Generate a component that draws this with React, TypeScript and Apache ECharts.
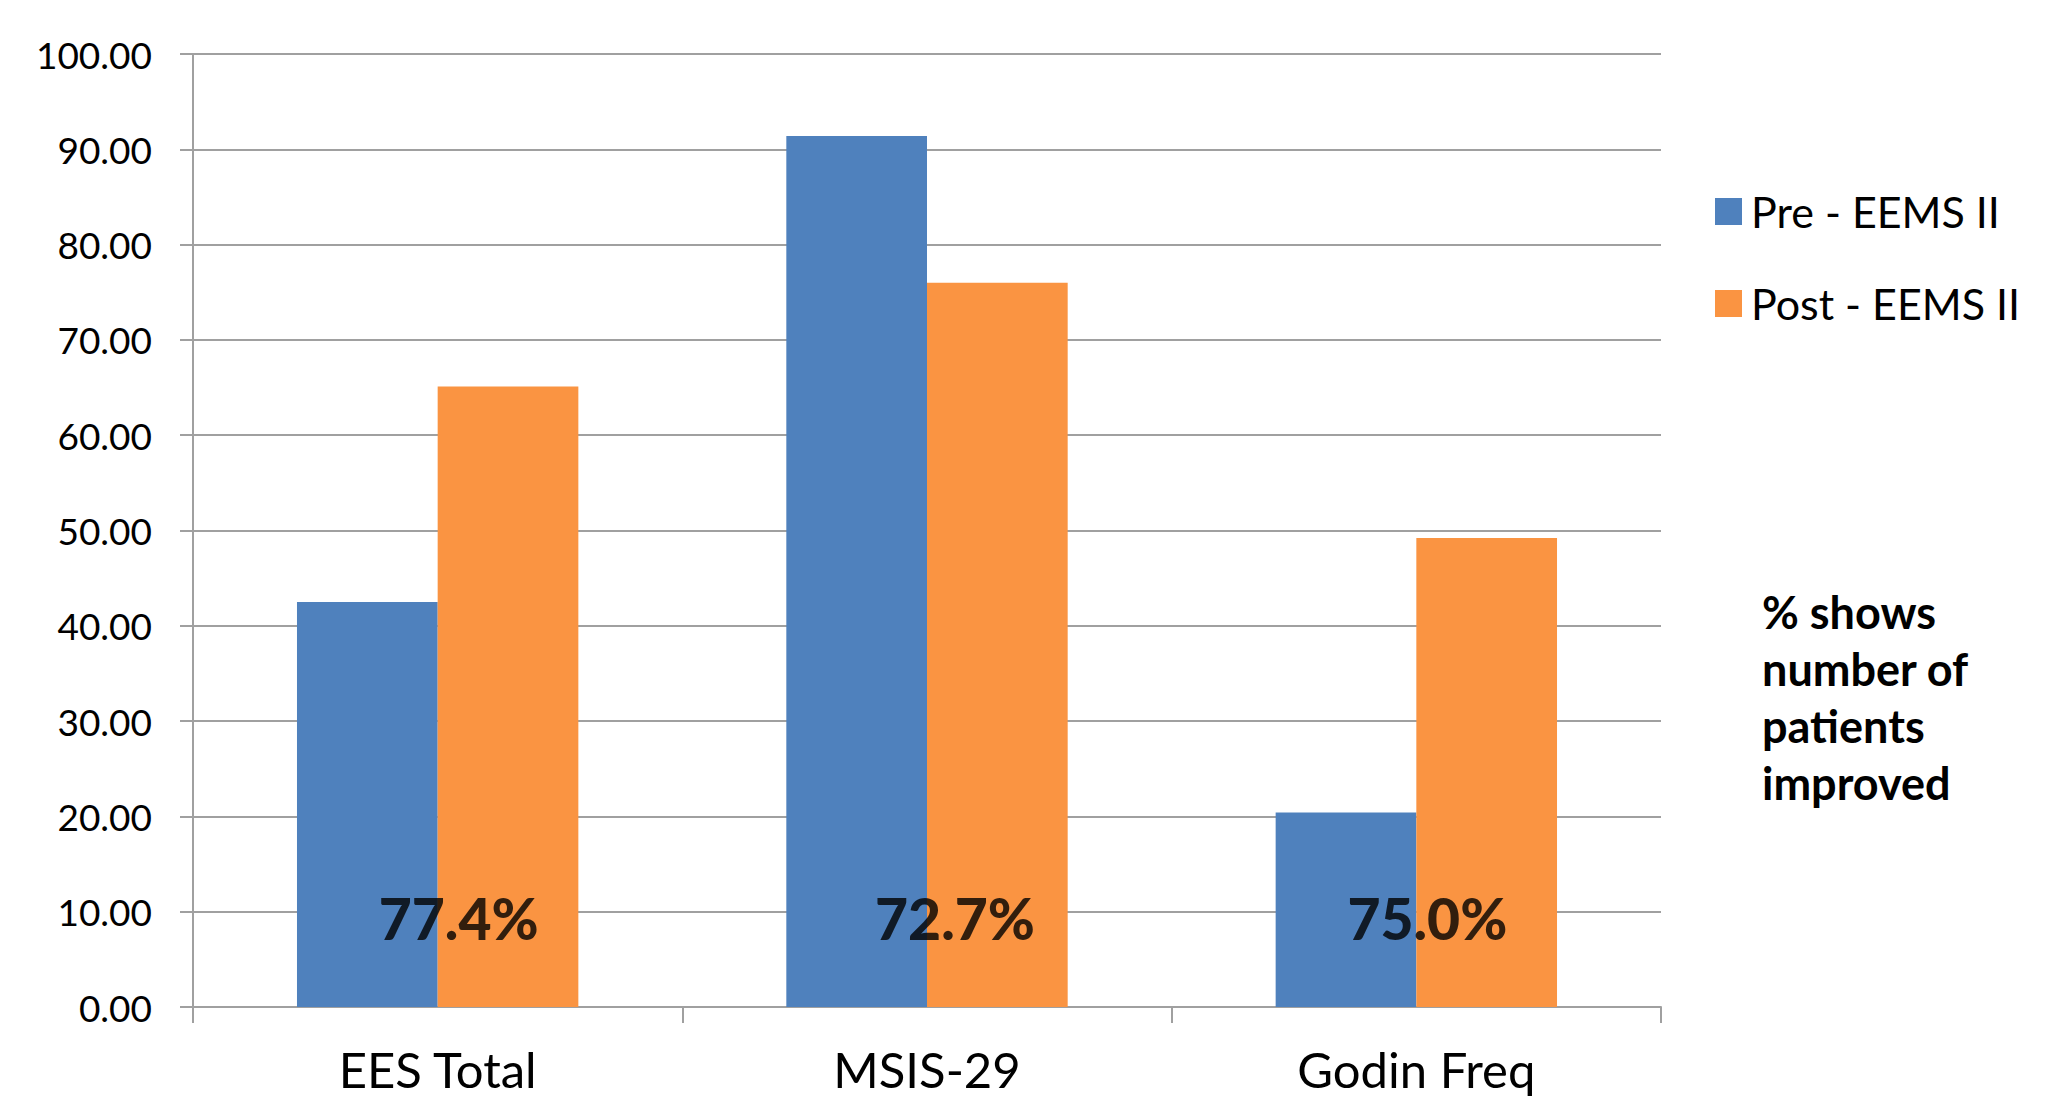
import React, { useEffect, useRef } from "react";
import * as echarts from "echarts";

const categories = ["EES Total", "MSIS-29", "Godin Freq"];
const preValues = [42.5, 91.4, 20.4];
const postValues = [65.1, 76.0, 49.2];
const improvedPct = ["77.4%", "72.7%", "75.0%"];
const pctLabelLevel = [9.3, 9.3, 9.3];
const seriesNames = ["Pre - EEMS II", "Post - EEMS II"];
const noteLines = ["% shows", "number of", "patients", "improved"];

const FONT = "Lato";

export default function App() {
  const ref = useRef<HTMLDivElement>(null);
  useEffect(() => {
    document.body.style.margin = "0";
    const chart = echarts.init(ref.current!, null, { renderer: "svg" });
    const gray = "#a0a0a0";
    const pctOffsets = [21, 28, 11];
    chart.setOption({
      animation: false,
      backgroundColor: "#ffffff",
      textStyle: { fontFamily: FONT },
      grid: { left: 193, right: 387, top: 54, bottom: 89, containLabel: false },
      legend: {
        orient: "vertical",
        left: 1710,
        top: 185,
        itemWidth: 27,
        itemHeight: 27,
        itemGap: 49,
        icon: "rect",
        data: seriesNames,
        textStyle: { fontFamily: FONT, fontSize: 43, color: "#000000", padding: [0, 0, 0, 4] },
      },
      xAxis: {
        type: "category",
        data: categories,
        axisLine: { show: true, lineStyle: { color: gray, width: 2 } },
        axisTick: { show: true, alignWithLabel: false, length: 16, lineStyle: { color: gray, width: 2 } },
        axisLabel: { fontFamily: FONT, fontSize: 49, color: "#000000", margin: 37 },
        splitLine: { show: false },
      },
      yAxis: {
        type: "value",
        min: 0,
        max: 100,
        interval: 10,
        axisLine: { show: true, lineStyle: { color: gray, width: 2 } },
        axisTick: { show: true, length: 13, lineStyle: { color: gray, width: 2 } },
        axisLabel: {
          fontFamily: FONT,
          fontSize: 37,
          color: "#000000",
          margin: 41,
          formatter: (v: number) => v.toFixed(2),
        },
        splitLine: { show: true, lineStyle: { color: gray, width: 2 } },
      },
      series: [
        {
          name: seriesNames[0],
          type: "bar",
          data: preValues,
          barGap: "0%",
          barCategoryGap: "42.5%",
          itemStyle: { color: "#4F81BD" },
        },
        {
          name: seriesNames[1],
          type: "bar",
          data: postValues,
          barGap: "0%",
          barCategoryGap: "42.5%",
          itemStyle: { color: "#FA9442" },
        },
        {
          name: "pct",
          type: "scatter",
          data: pctLabelLevel.map((v, i) => ({ value: v, label: { offset: [pctOffsets[i], 0] } })),
          symbolSize: 0,
          silent: true,
          z: 10,
          label: {
            show: true,
            position: "inside",
            formatter: (p: any) => improvedPct[p.dataIndex],
            fontFamily: FONT,
            fontWeight: 900,
            fontSize: 57,
            color: "#000000",
          },
        },
      ],
      graphic: [
        {
          type: "text",
          left: 1762,
          top: 583,
          style: {
            text: noteLines.join("\n"),
            fontFamily: FONT,
            fontWeight: "bold",
            fontSize: 45,
            lineHeight: 57,
            fill: "#000000",
          },
        },
      ],
    });
    return () => chart.dispose();
  }, []);
  return <div ref={ref} style={{ width: 2048, height: 1096 }} />;
}
